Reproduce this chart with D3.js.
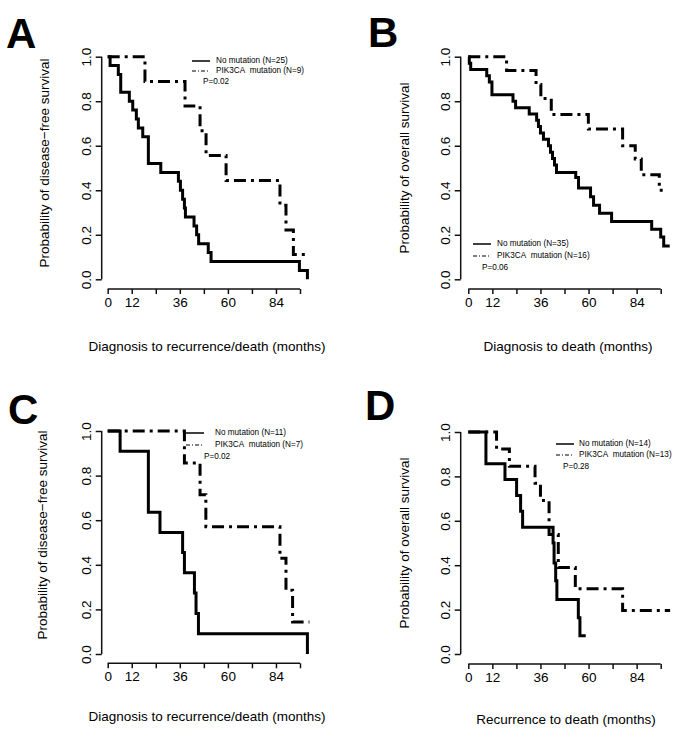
<!DOCTYPE html>
<html><head><meta charset="utf-8">
<script src="https://cdn.jsdelivr.net/npm/d3@7"></script>
<style>
html,body{margin:0;padding:0;background:#fff;}
svg text{font-family:"Liberation Sans",Arial,sans-serif;fill:#000;}
</style></head>
<body><svg id="c" width="685" height="737"></svg>
<script>
// ---------- data ----------
const xTicks = [0, 12, 24, 36, 48, 60, 72, 84, 96];
const xTickLabels = ["0", "12", "", "36", "", "60", "", "84", ""];
const yTicks = [0, 0.2, 0.4, 0.6, 0.8, 1.0];
const yTickLabels = ["0.0", "0.2", "0.4", "0.6", "0.8", "1.0"];

const panelLetters = ["A", "B", "C", "D"];
const yTitles = ["Probability of disease\u2212free survival", "Probability of overall survival",
                 "Probability of disease\u2212free survival", "Probability of overall survival"];
const xTitles = ["Diagnosis to recurrence/death (months)", "Diagnosis to death (months)",
                 "Diagnosis to recurrence/death (months)", "Recurrence to death (months)"];
const legendNoMut = ["No mutation (N=25)", "No mutation (N=35)", "No mutation (N=11)", "No mutation (N=14)"];
const legendPik = ["PIK3CA\u00A0 mutation (N=9)", "PIK3CA\u00A0 mutation (N=16)", "PIK3CA\u00A0 mutation (N=7)", "PIK3CA\u00A0 mutation (N=13)"];
const pValues = ["P=0.02", "P=0.06", "P=0.02", "P=0.28"];

const aNoMutTime = [0, 1.2, 5.3, 6.5, 10.8, 12.5, 14.3, 15.3, 17.5, 20.3, 26.5, 35.3, 36.3, 37.4, 38.3, 38.8, 43.1, 44.4, 45.4, 50.2, 51.6, 95.7, 99.7];
const aNoMutSurv = [1, 0.96, 0.92, 0.84, 0.80, 0.76, 0.72, 0.68, 0.64, 0.52, 0.48, 0.44, 0.40, 0.36, 0.32, 0.28, 0.24, 0.20, 0.16, 0.12, 0.08, 0.04, 0.0];
const aPikTime = [0, 18.6, 38.6, 46.1, 49.1, 59.1, 86, 89, 92.7, 98.5];
const aPikSurv = [1, 0.889, 0.778, 0.667, 0.556, 0.444, 0.333, 0.222, 0.111, 0.111];

const bNoMutTime = [0, 0.5, 1.2, 9.2, 10.5, 11.8, 22.3, 23.6, 30.4, 34.1, 35, 36, 37.5, 40, 41, 42, 43, 44, 53.6, 55, 61, 62.5, 65.5, 71.5, 91.5, 96, 97.5, 100.5];
const bNoMutSurv = [1, 0.971, 0.943, 0.914, 0.886, 0.829, 0.80, 0.771, 0.743, 0.714, 0.686, 0.657, 0.629, 0.60, 0.571, 0.543, 0.514, 0.48, 0.457, 0.41, 0.371, 0.333, 0.297, 0.26, 0.225, 0.19, 0.15, 0.15];
const bPikTime = [0, 19.1, 33.8, 36.2, 41.4, 59.9, 77, 83.3, 86.3, 95.3, 97];
const bPikSurv = [1, 0.9375, 0.875, 0.8125, 0.74, 0.675, 0.60, 0.54, 0.47, 0.40, 0.40];

const cNoMutTime = [0, 6.2, 20.3, 26.1, 37.4, 38.3, 43.3, 44.1, 45.3, 99.7];
const cNoMutSurv = [1, 0.909, 0.636, 0.545, 0.455, 0.364, 0.273, 0.182, 0.091, 0];
const cPikTime = [0, 38.3, 46.1, 49, 86, 89, 92.3, 100.7];
const cPikSurv = [1, 0.857, 0.714, 0.571, 0.429, 0.286, 0.143, 0.143];

const dNoMutTime = [0, 8.8, 18.3, 24.1, 26.1, 27.1, 42.3, 42.8, 43.6, 44.2, 54.9, 55.7, 58.6];
const dNoMutSurv = [1, 0.857, 0.786, 0.714, 0.643, 0.571, 0.50, 0.41, 0.33, 0.245, 0.163, 0.082, 0.082];
const dPikTime = [0, 14.1, 20.5, 33.3, 36, 40.3, 44.9, 53.4, 77, 100.7];
const dPikSurv = [1, 0.923, 0.846, 0.769, 0.692, 0.538, 0.39, 0.294, 0.196, 0.196];

// ---------- layout ----------
const layouts = [
  {x0: 107.7, x96: 300, yTop: 56.7, yBot: 279.3, yAxisX: 101.7, xAxisY: 289, letter: [6, 48],
   ytl: 45, ytc: 163, xtc: 207, xty: 351, leg: {lx: 192, tx: 216, px: 203, y: [61, 71, 82]},
   noT: aNoMutTime, noS: aNoMutSurv, pkT: aPikTime, pkS: aPikSurv},
  {x0: 468.3, x96: 660.7, yTop: 56.7, yBot: 279.3, yAxisX: 460.7, xAxisY: 289, letter: [368, 47],
   ytl: 405, ytc: 168, xtc: 568, xty: 351, leg: {lx: 473, tx: 497, px: 482, y: [244, 256, 268]},
   noT: bNoMutTime, noS: bNoMutSurv, pkT: bPikTime, pkS: bPikSurv},
  {x0: 107.7, x96: 300, yTop: 431, yBot: 654, yAxisX: 101.7, xAxisY: 663.3, letter: [8, 424],
   ytl: 43, ytc: 535, xtc: 207, xty: 721, leg: {lx: 186, tx: 215, px: 204, y: [433, 445, 457]},
   noT: cNoMutTime, noS: cNoMutSurv, pkT: cPikTime, pkS: cPikSurv},
  {x0: 468.3, x96: 660.7, yTop: 432, yBot: 654, yAxisX: 460.7, xAxisY: 664, letter: [365, 420],
   ytl: 405, ytc: 543, xtc: 566, xty: 724, leg: {lx: 556, tx: 579, px: 563, y: [444, 455, 467]},
   noT: dNoMutTime, noS: dNoMutSurv, pkT: dPikTime, pkS: dPikSurv}
];

const svg = d3.select("#c");
const dashDot = "12,5,3,5";

layouts.forEach((L, i) => {
  const g = svg.append("g");
  const x = d3.scaleLinear().domain([0, 96]).range([L.x0, L.x96]);
  const y = d3.scaleLinear().domain([0, 1]).range([L.yBot, L.yTop]);

  // x axis
  const xa = g.append("g").attr("transform", `translate(0,${L.xAxisY})`)
    .call(d3.axisBottom(x).tickValues(xTicks).tickSize(5).tickPadding(3)
      .tickFormat((d, k) => xTickLabels[k]));
  xa.select(".domain").attr("d", `M${x(0)},0H${x(96)}`).attr("stroke", "#111").attr("stroke-width", 1.5);
  xa.selectAll(".tick line").attr("stroke", "#111").attr("stroke-width", 1.5);
  xa.selectAll(".tick text").attr("font-size", 13.5).attr("font-family", "Liberation Sans, Arial, sans-serif");

  // y axis
  const ya = g.append("g").attr("transform", `translate(${L.yAxisX},0)`)
    .call(d3.axisLeft(y).tickValues(yTicks).tickSize(6).tickFormat((d, k) => yTickLabels[k]));
  ya.select(".domain").attr("d", `M0,${y(0)}V${y(1)}`).attr("stroke", "#111").attr("stroke-width", 1.5);
  ya.selectAll(".tick line").attr("stroke", "#111").attr("stroke-width", 1.5);
  ya.selectAll(".tick text").attr("font-size", 13.5).attr("font-family", "Liberation Sans, Arial, sans-serif")
    .attr("text-anchor", "middle").attr("dy", 0).attr("x", 0)
    .attr("transform", "translate(-14,0) rotate(-90)").attr("dominant-baseline", "middle");

  // curves
  const line = d3.line().x(d => x(d[0])).y(d => y(d[1])).curve(d3.curveStepAfter);
  const noPts = L.noT.map((t, k) => [t, L.noS[k]]);
  const pkPts = L.pkT.map((t, k) => [t, L.pkS[k]]);
  g.append("path").attr("d", line(pkPts)).attr("fill", "none").attr("stroke", "#000")
    .attr("stroke-width", 3).attr("stroke-dasharray", dashDot);
  g.append("path").attr("d", line(noPts)).attr("fill", "none").attr("stroke", "#000")
    .attr("stroke-width", 3);

  // titles
  g.append("text").attr("x", L.letter[0]).attr("y", L.letter[1]).attr("font-size", 42)
    .attr("font-weight", "bold").text(panelLetters[i]);
  g.append("text").attr("transform", `translate(${L.ytl},${L.ytc}) rotate(-90)`)
    .attr("text-anchor", "middle").attr("dominant-baseline", "middle").attr("font-size", 13.5).text(yTitles[i]);
  g.append("text").attr("x", L.xtc).attr("y", L.xty).attr("text-anchor", "middle")
    .attr("font-size", 13.5).text(xTitles[i]);

  // legend
  const lg = L.leg;
  g.append("line").attr("x1", lg.lx).attr("x2", lg.lx + 18).attr("y1", lg.y[0]).attr("y2", lg.y[0])
    .attr("stroke", "#000").attr("stroke-width", 1.5);
  g.append("line").attr("x1", lg.lx).attr("x2", lg.lx + 18).attr("y1", lg.y[1]).attr("y2", lg.y[1])
    .attr("stroke", "#000").attr("stroke-width", 1.2).attr("stroke-dasharray", "4,2,1,2");
  g.append("text").attr("x", lg.tx).attr("y", lg.y[0]).attr("dominant-baseline", "middle")
    .attr("font-size", 8.2).text(legendNoMut[i]);
  g.append("text").attr("x", lg.tx).attr("y", lg.y[1]).attr("dominant-baseline", "middle")
    .attr("font-size", 8.2).text(legendPik[i]);
  g.append("text").attr("x", lg.px).attr("y", lg.y[2]).attr("dominant-baseline", "middle")
    .attr("font-size", 8.2).text(pValues[i]);
});
</script></body></html>
